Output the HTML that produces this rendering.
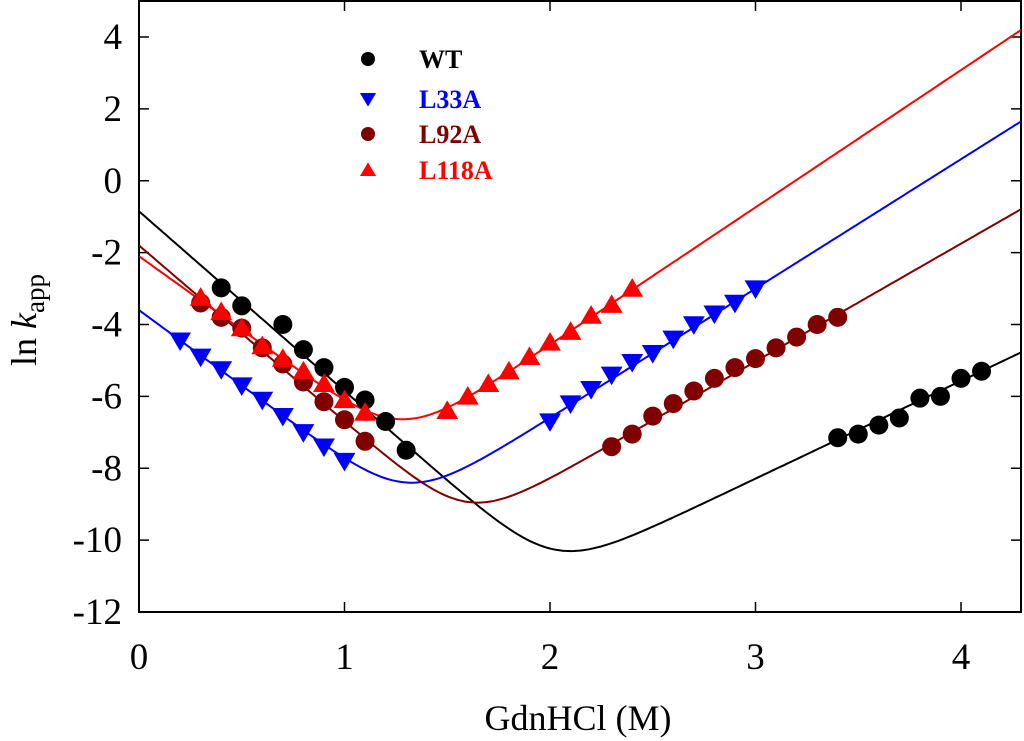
<!DOCTYPE html>
<html><head><meta charset="utf-8"><style>
body{margin:0;background:#fff}
svg{display:block}
text{font-family:"Liberation Serif",serif}
</style></head><body>
<svg id="chart" width="1024" height="741" viewBox="0 0 1024 741"></svg>
<script>
const xTicks=[0,1,2,3,4];
const yTicks=[4,2,0,-2,-4,-6,-8,-10,-12];
const seriesNames=["WT","L33A","L92A","L118A"];
const seriesColors=["#000000","#0000ff","#800000","#ff0000"];
const seriesMarkers=["circle","tri-down","circle","tri-up"];
const wtX=[0.4,0.5,0.7,0.8,0.9,1.0,1.1,1.2,1.3,3.4,3.5,3.6,3.7,3.8,3.9,4.0,4.1];
const wtY=[-2.98,-3.48,-4.0,-4.7,-5.2,-5.75,-6.1,-6.7,-7.5,-7.15,-7.05,-6.8,-6.6,-6.05,-6.0,-5.5,-5.3];
const l33X=[0.2,0.3,0.4,0.5,0.6,0.7,0.8,0.9,1.0,2.0,2.1,2.2,2.3,2.4,2.5,2.6,2.7,2.8,2.9,3.0];
const l33Y=[-4.45,-4.9,-5.25,-5.7,-6.1,-6.55,-7.0,-7.4,-7.8,-6.7,-6.2,-5.8,-5.4,-5.05,-4.8,-4.4,-4.0,-3.7,-3.4,-3.0];
const l92X=[0.3,0.4,0.5,0.6,0.7,0.8,0.9,1.0,1.1,2.3,2.4,2.5,2.6,2.7,2.8,2.9,3.0,3.1,3.2,3.3,3.4];
const l92Y=[-3.4,-3.8,-4.1,-4.65,-5.1,-5.6,-6.15,-6.65,-7.25,-7.4,-7.05,-6.55,-6.2,-5.85,-5.5,-5.2,-4.95,-4.65,-4.35,-4.0,-3.8];
const l118X=[0.3,0.4,0.5,0.6,0.7,0.8,0.9,1.0,1.1,1.5,1.6,1.7,1.8,1.9,2.0,2.1,2.2,2.3,2.4];
const l118Y=[-3.25,-3.65,-4.1,-4.6,-4.95,-5.3,-5.65,-6.1,-6.45,-6.4,-6.0,-5.65,-5.3,-4.9,-4.5,-4.2,-3.75,-3.45,-3.0];
// chevron fit params: [folding intercept, folding slope, unfolding intercept, unfolding slope]
const fitWT=[-0.85,-5.0,-16.45,2.72];
const fitL33=[-3.6,-4.2,-13.8,3.6];
const fitL92=[-1.8,-4.9,-14.87,3.28];
const fitL118=[-2.1,-4.1,-12.2,3.82];

const NS="http://www.w3.org/2000/svg";
const FF='"Liberation Serif", serif';
const svg=document.getElementById('chart');
const L=139,R=1021,T=1,B=612,XMAX=(R-L)/205.5;
const sx=v=>L+v/XMAX*(R-L);
const sy=v=>B-(v+12)/16*(B-37);
function el(t,a,p){const e=document.createElementNS(NS,t);for(const k in a)e.setAttribute(k,a[k]);(p||svg).appendChild(e);return e;}

const axes=el('g',{});


const frame=el('rect',{x:L,y:T,width:R-L,height:B-T,fill:'none',stroke:'#000','stroke-width':2},axes);


xTicks.forEach(t=>{
  el('line',{x1:sx(t),x2:sx(t),y1:B,y2:B-10,stroke:'#000','stroke-width':1.5},axes);
  el('line',{x1:sx(t),x2:sx(t),y1:T,y2:T+10,stroke:'#000','stroke-width':1.5},axes);
  const tx=el('text',{x:sx(t),y:669,'font-size':37,'text-anchor':'middle','font-family':FF},axes);tx.textContent=t;
  
  
});
yTicks.forEach(t=>{
  el('line',{x1:L,x2:L+10,y1:sy(t),y2:sy(t),stroke:'#000','stroke-width':1.5},axes);
  el('line',{x1:R,x2:R-10,y1:sy(t),y2:sy(t),stroke:'#000','stroke-width':1.5},axes);
  const tx=el('text',{x:122,y:sy(t)+12,'font-size':37,'text-anchor':'end','font-family':FF},axes);tx.textContent=t;
  
  
});
const xt=el('text',{x:578,y:730,'font-size':36,'text-anchor':'middle','font-family':FF});xt.textContent='GdnHCl (M)';


const yt=el('text',{transform:'translate(36,320) rotate(-90)','font-size':36,'text-anchor':'middle','font-family':FF});
yt.innerHTML='ln <tspan font-style="italic">k</tspan><tspan font-size="27" dy="8">app</tspan>';



const clip=el('clipPath',{id:'cp'});el('rect',{x:L,y:T,width:R-L,height:B-T},clip);
function marker(kind,cx,cy,color,r,parent){
  if(kind==='circle')return el('circle',{cx:cx,cy:cy,r:r,fill:color},parent);
  const s=r*1.15;
  if(kind==='tri-down')return el('polygon',{points:`${cx-s},${cy-s*0.75} ${cx+s},${cy-s*0.75} ${cx},${cy+s*0.95}`,fill:color},parent);
  return el('polygon',{points:`${cx-s},${cy+s*0.75} ${cx+s},${cy+s*0.75} ${cx},${cy-s*0.95}`,fill:color},parent);
}
const xs=[wtX,l33X,l92X,l118X],ys=[wtY,l33Y,l92Y,l118Y],fits=[fitWT,fitL33,fitL92,fitL118];
const slug=['wt','l33a','l92a','l118a'];
for(let i=0;i<4;i++){
  const f=fits[i];let d='';
  for(let k=0;k<=300;k++){const x=XMAX*k/300;const y=Math.log(Math.exp(f[0]+f[1]*x)+Math.exp(f[2]+f[3]*x));d+=(k?'L':'M')+sx(x).toFixed(1)+','+sy(y).toFixed(1);}
  const p=el('path',{d:d,fill:'none',stroke:seriesColors[i],'stroke-width':2,'clip-path':'url(#cp)'});
  
  
}
for(let i=0;i<4;i++){
  const g=el('g',{});
  
  
  xs[i].forEach((x,j)=>{const m=marker(seriesMarkers[i],sx(x),sy(ys[i][j]),seriesColors[i],9.5,g);
    
    });
}
const lg=el('g',{});


const ly=[59,99,134,170];
for(let i=0;i<4;i++){
  const e=el('g',{},lg);
  
  
  marker(seriesMarkers[i],368,ly[i],seriesColors[i],7,e);
  const t=el('text',{x:419,y:ly[i]+9,'font-size':26,'font-weight':'bold',fill:seriesColors[i],'font-family':FF},e);t.textContent=seriesNames[i];
}
</script>
</body></html>
